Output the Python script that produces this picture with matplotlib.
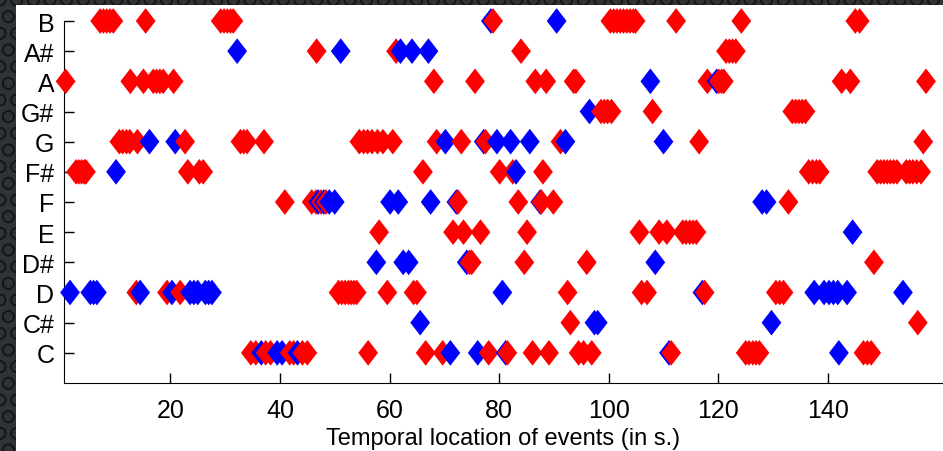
import matplotlib
matplotlib.use("Agg")
import matplotlib.pyplot as plt
from matplotlib.path import Path
from matplotlib.patches import Rectangle

notes = ["C", "C#", "D", "D#", "E", "F", "F#", "G", "G#", "A", "A#", "B"]

# event times (s) per pitch class, red and blue sources
red_C = [34.7, 35.6, 37.4, 38.3, 41.8, 42.5, 44.1, 45.0, 56.1, 66.6, 69.7, 78.1, 81.5,
         86.1, 89.1, 94.5, 95.4, 96.9, 111.4, 125.0, 125.6, 126.3, 126.9, 127.5,
         146.5, 147.2, 147.9]
blue_C = [36.6, 39.5, 40.4, 43.2, 71.1, 76.1, 81.2, 111.0, 142.0]
red_Cs = [93.0, 156.4]
blue_Cs = [65.6, 97.4, 98.0, 129.7]
red_D = [13.8, 19.4, 21.8, 50.7, 51.3, 51.9, 52.5, 53.0, 53.5, 54.0, 59.6, 64.4, 65.0,
         92.5, 106.0, 107.0, 117.5, 130.5, 131.2, 131.9]
blue_D = [1.7, 5.4, 6.0, 6.6, 14.5, 20.3, 23.6, 24.3, 25.0, 26.4, 27.0, 27.6, 80.6,
          117.1, 137.5, 139.3, 140.2, 141.0, 141.8, 143.5, 153.7]
red_Ds = [74.6, 75.0, 84.6, 96.0, 148.4]
blue_Ds = [57.6, 62.5, 63.5, 74.1, 108.5]
red_E = [58.1, 71.6, 73.5, 76.6, 85.1, 105.6, 109.2, 110.6, 113.5, 114.1, 114.8,
         115.4, 116.0]
blue_E = [144.5]
red_F = [40.9, 45.8, 46.6, 47.5, 48.4, 72.5, 83.5, 87.7, 89.9, 132.8]
blue_F = [47.0, 48.0, 49.0, 50.0, 60.1, 61.6, 67.5, 72.2, 87.5, 128.0, 128.8]
red_Fs = [2.8, 3.3, 3.8, 4.3, 4.6, 23.2, 25.3, 26.0, 66.1, 80.1, 82.5, 88.0, 136.5,
          137.2, 137.9, 138.5, 149.0, 149.6, 150.2, 150.8, 151.4, 152.0, 152.6,
          154.3, 154.9, 155.5, 156.2, 157.0]
blue_Fs = [10.1, 83.1]
red_G = [10.7, 11.3, 12.0, 12.6, 14.0, 22.7, 32.8, 33.4, 34.0, 37.1, 54.5, 55.3,
         56.0, 56.8, 57.8, 58.8, 60.6, 68.6, 73.1, 77.5, 91.2, 116.5, 157.4]
blue_G = [16.2, 20.9, 70.2, 77.2, 79.6, 82.1, 85.6, 92.1, 110.0]
red_Gs = [98.6, 99.2, 99.8, 100.5, 108.0, 133.5, 134.1, 134.7, 135.3, 135.9]
blue_Gs = [96.5]
red_A = [0.9, 12.7, 15.1, 16.9, 17.5, 18.1, 18.7, 20.6, 68.1, 75.6, 86.6, 88.6, 93.6,
         94.0, 118.0, 120.1, 120.6, 121.0, 142.5, 144.1, 157.9]
blue_A = [107.6, 119.7]
red_As = [46.7, 61.2, 84.0, 121.4, 122.0, 122.6, 123.2]
blue_As = [32.2, 51.1, 62.0, 64.1, 67.1]
red_B = [7.2, 7.8, 8.4, 9.0, 9.6, 15.5, 29.2, 29.8, 30.4, 31.0, 31.5, 78.9, 100.3,
         100.9, 101.5, 102.1, 102.7, 103.3, 103.9, 104.5, 104.9, 112.3, 124.2,
         145.0, 145.8]
blue_B = [78.5, 90.5]

red_events = [red_C, red_Cs, red_D, red_Ds, red_E, red_F, red_Fs, red_G, red_Gs,
              red_A, red_As, red_B]
blue_events = [blue_C, blue_Cs, blue_D, blue_Ds, blue_E, blue_F, blue_Fs, blue_G,
               blue_Gs, blue_A, blue_As, blue_B]

# put everything in time order so later events are drawn on top
points = []
for k in range(len(notes)):
    for t in red_events[k]:
        points.append((t, k, "#ff0000"))
    for t in blue_events[k]:
        points.append((t, k, "#0000ff"))
points.sort(key=lambda p: p[0])

diamond = Path([(0, 1), (0.77, 0), (0, -1), (-0.77, 0), (0, 1)],
               [Path.MOVETO, Path.LINETO, Path.LINETO, Path.LINETO, Path.CLOSEPOLY])

plt.rcParams["font.family"] = ["Liberation Sans", "DejaVu Sans"]

fig = plt.figure(figsize=(9.43, 4.52), dpi=100)
ax = fig.add_axes([64 / 943, 68 / 452, 879 / 943, 362 / 452])

ax.scatter([p[0] for p in points], [p[1] for p in points], s=18.5 ** 2,
           c=[p[2] for p in points], marker=diamond, linewidths=0, clip_on=False,
           zorder=3)

ax.set_xlim(0.6, 161)
ax.set_ylim(-1, 11)
ax.set_xticks([20, 40, 60, 80, 100, 120, 140])
ax.set_yticks(range(len(notes)))
ax.set_yticklabels(notes)
ax.tick_params(axis="x", direction="in", length=7, width=1, labelsize=18, pad=10.5)
ax.tick_params(axis="y", direction="in", length=7, width=1, labelsize=18, pad=7)
ax.spines["top"].set_visible(False)
ax.spines["right"].set_visible(False)
ax.set_xlabel("Temporal location of events (in s.)", fontsize=17, labelpad=4)

# dark frame strips along the left and top edges
for x0, y0, w, h in [(0, 0, 16 / 943, 1), (0, 1 - 6 / 452, 1, 6 / 452)]:
    fig.add_artist(Rectangle((x0, y0), w, h, transform=fig.transFigure,
                             facecolor="#303336", edgecolor="#141618",
                             hatch="O", linewidth=0, zorder=10))

fig.savefig("out.png", dpi=100)
